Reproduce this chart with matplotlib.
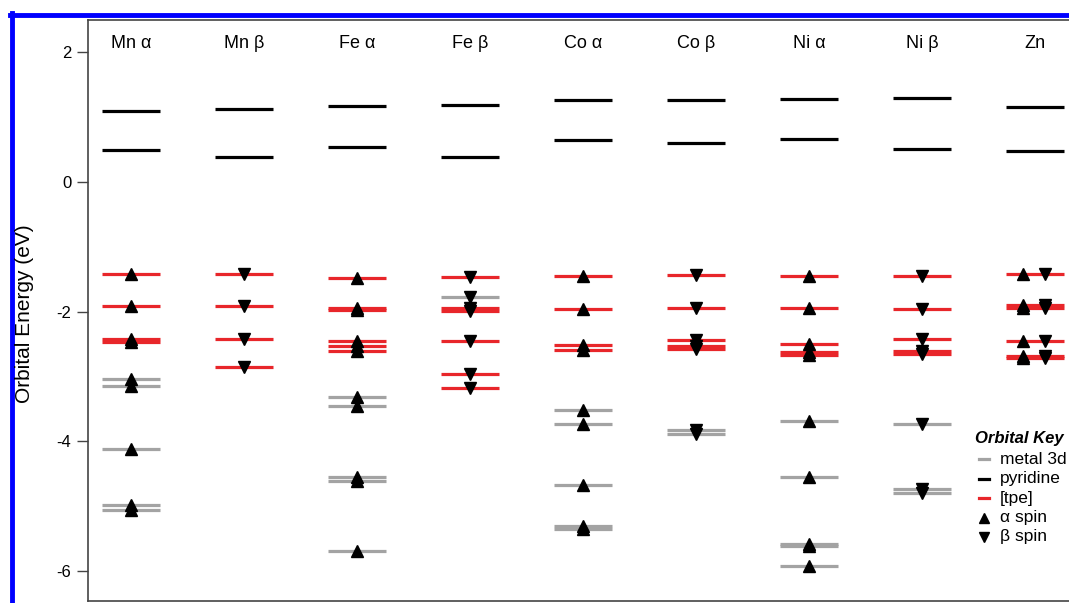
import matplotlib
matplotlib.use('Agg')
import matplotlib.pyplot as plt
from matplotlib.lines import Line2D

plt.rcParams['font.family'] = ['Liberation Sans', 'DejaVu Sans']
plt.rcParams['axes.unicode_minus'] = False

# orbital energies (eV)
columns = ['Mn α', 'Mn β', 'Fe α', 'Fe β', 'Co α', 'Co β', 'Ni α', 'Ni β', 'Zn']
spins = ['a', 'b', 'a', 'b', 'a', 'b', 'a', 'b', 'ab']

pyridine = [[1.09, 0.49], [1.11, 0.38], [1.16, 0.53], [1.17, 0.37], [1.25, 0.64],
            [1.26, 0.59], [1.27, 0.65], [1.28, 0.50], [1.14, 0.47]]

tpe = [[-1.43, -1.92, -2.43, -2.47],
       [-1.42, -1.91, -2.42, -2.85],
       [-1.48, -1.94, -1.98, -2.45, -2.53, -2.60],
       [-1.47, -1.95, -1.99, -2.46, -2.96, -3.18],
       [-1.46, -1.96, -2.51, -2.59],
       [-1.44, -1.95, -2.44, -2.53, -2.57],
       [-1.46, -1.95, -2.50, -2.63, -2.67],
       [-1.45, -1.96, -2.43, -2.61, -2.65],
       [-1.43, -1.90, -1.94, -2.45, -2.68, -2.72]]

metal3d = [[-3.04, -3.15, -4.12, -4.98, -5.05],
           [],
           [-3.32, -3.45, -4.54, -4.61, -5.69],
           [-1.78],
           [-3.52, -3.73, -4.67, -5.30, -5.34],
           [-3.83, -3.89],
           [-3.68, -4.55, -5.57, -5.61, -5.92],
           [-3.73, -4.73, -4.80],
           []]

RED = '#e8262a'
GRAY = '#a3a3a3'
W, H = 1069, 603

fig = plt.figure(figsize=(W / 100, H / 100), dpi=100)
ax = fig.add_axes([88 / W, 2 / H, 1 - 88 / W, (601 - 20) / H])

hw = 0.257
for i, name in enumerate(columns):
    x = i + 1
    for e in metal3d[i]:
        ax.plot([x - hw, x + hw], [e, e], color=GRAY, lw=2.3, solid_capstyle='butt', zorder=2)
    for e in tpe[i]:
        ax.plot([x - hw, x + hw], [e, e], color=RED, lw=2.3, solid_capstyle='butt', zorder=2)
    for e in pyridine[i]:
        ax.plot([x - hw, x + hw], [e, e], color='black', lw=2.3, solid_capstyle='butt', zorder=2)
    occ = metal3d[i] + tpe[i]
    if spins[i] == 'ab':
        ax.plot([x - 0.11] * len(occ), occ, '^', color='black', ms=8, zorder=3)
        ax.plot([x + 0.09] * len(occ), occ, 'v', color='black', ms=8, zorder=3)
    elif spins[i] == 'a':
        ax.plot([x] * len(occ), occ, '^', color='black', ms=8, zorder=3)
    else:
        ax.plot([x] * len(occ), occ, 'v', color='black', ms=8, zorder=3)
    ax.text(x, 2.12, name, ha='center', va='center', fontsize=13)

ax.set_xlim(1 - 43 / 113, 9 + 34 / 113)
ax.set_ylim(-6.454, 2.485)
ax.set_yticks([2, 0, -2, -4, -6])
ax.set_xticks([])
ax.tick_params(axis='y', direction='out', length=8, width=1, pad=4, color='#444444', labelsize=12)
ax.spines['right'].set_visible(False)
for s in ['left', 'top', 'bottom']:
    ax.spines[s].set_color('#444444')
    ax.spines[s].set_linewidth(1.2)

# orbital key
def fx(px):
    return px / W

def fy(py):
    return 1 - py / H

fig.text(fx(25), fy(314), 'Orbital Energy (eV)', fontsize=15, rotation=90, ha='center', va='center')

fig.text(fx(975), fy(438), 'Orbital Key', fontsize=12, fontweight='bold', fontstyle='italic', va='center')
keys = [('metal 3d', GRAY, '_'), ('pyridine', 'black', '_'), ('[tpe]', RED, '_'),
        ('α spin', 'black', '^'), ('β spin', 'black', 'v')]
for k, (label, c, m) in enumerate(keys):
    yy = 459 + k * 19.5
    if m == '_':
        fig.add_artist(Line2D([fx(979), fx(989)], [fy(yy), fy(yy)], color=c, lw=2.3))
    else:
        fig.add_artist(Line2D([fx(984)], [fy(yy)], marker=m, color='black', ms=7, ls='none'))
    fig.text(fx(1000), fy(yy), label, fontsize=12.5, va='center')

# blue frame
fig.add_artist(Line2D([fx(10), 1], [fy(15), fy(15)], color='#0000ff', lw=3.5))
fig.add_artist(Line2D([fx(12), fx(12)], [0, fy(13)], color='#0000ff', lw=3.5))

fig.savefig('out.png', dpi=100)
